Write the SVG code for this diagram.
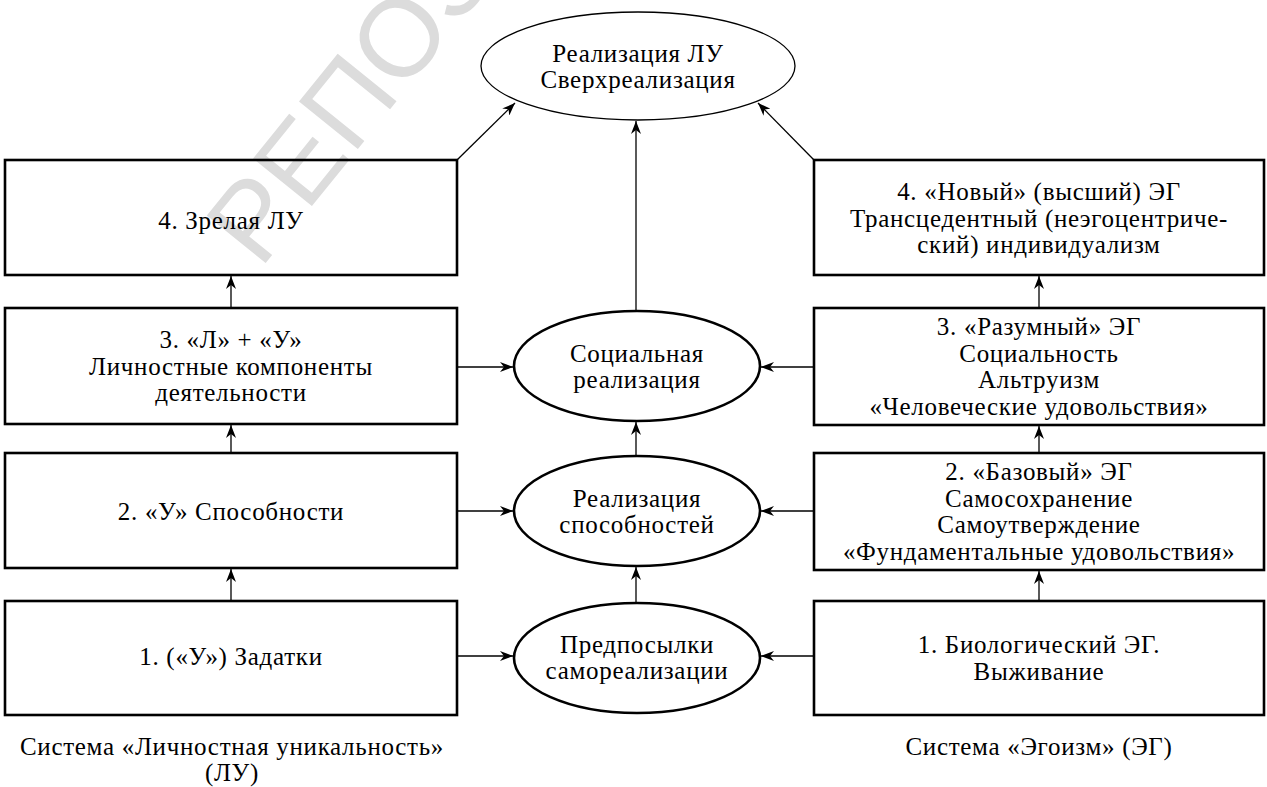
<svg xmlns="http://www.w3.org/2000/svg" width="1267" height="787" viewBox="0 0 1267 787">
<style>
  .box{fill:none;stroke:#000;stroke-width:2.6}
  .ell{fill:none;stroke:#000;stroke-width:2.6}
  .ellthin{fill:none;stroke:#000;stroke-width:1.3}
  .conn line{stroke:#000;stroke-width:1.3}
  .t text{font-family:"Liberation Serif","Times New Roman",serif;font-size:25px;letter-spacing:0.7px;fill:#000;text-anchor:middle}
  .wm{font-family:"Liberation Sans",Arial,sans-serif;font-size:110px;fill:#dcdcdc}
</style>
<defs>
  <marker id="arr" markerUnits="userSpaceOnUse" markerWidth="14" markerHeight="10" refX="13" refY="5" orient="auto">
    <path d="M0,0 L13,5 L0,10 L4,5 Z" fill="#000"/>
  </marker>
</defs>
<rect width="1267" height="787" fill="#fff"/>
<text class="wm" transform="translate(260,270) rotate(-51)">РЕПОЗИТОРИЙ</text>

<g id="connectors" class="conn">
  <line x1="457" y1="160" x2="515" y2="103" marker-end="url(#arr)"/>
  <line x1="814" y1="160" x2="758" y2="103" marker-end="url(#arr)"/>
  <line x1="636" y1="311" x2="636" y2="121" marker-end="url(#arr)"/>
  <line x1="636" y1="456" x2="636" y2="422" marker-end="url(#arr)"/>
  <line x1="636" y1="603" x2="636" y2="567" marker-end="url(#arr)"/>
  <line x1="231" y1="308" x2="231" y2="276" marker-end="url(#arr)"/>
  <line x1="231" y1="453" x2="231" y2="425" marker-end="url(#arr)"/>
  <line x1="231" y1="601" x2="231" y2="569" marker-end="url(#arr)"/>
  <line x1="1039" y1="308" x2="1039" y2="276" marker-end="url(#arr)"/>
  <line x1="1039" y1="453" x2="1039" y2="426" marker-end="url(#arr)"/>
  <line x1="1039" y1="601" x2="1039" y2="571" marker-end="url(#arr)"/>
  <line x1="457" y1="367" x2="513" y2="367" marker-end="url(#arr)"/>
  <line x1="457" y1="511" x2="513" y2="511" marker-end="url(#arr)"/>
  <line x1="457" y1="656" x2="513" y2="656" marker-end="url(#arr)"/>
  <line x1="814" y1="367" x2="761" y2="367" marker-end="url(#arr)"/>
  <line x1="814" y1="511" x2="761" y2="511" marker-end="url(#arr)"/>
  <line x1="814" y1="656" x2="761" y2="656" marker-end="url(#arr)"/>
</g>

<g class="t">
<g id="top">
  <ellipse class="ellthin" cx="638" cy="66" rx="157" ry="54"/>
  <text x="638" y="62">Реализация ЛУ</text>
  <text x="638" y="88">Сверхреализация</text>
</g>

<g id="social">
  <ellipse class="ell" cx="637" cy="366" rx="123" ry="55"/>
  <text x="637" y="362">Социальная</text>
  <text x="637" y="388">реализация</text>
</g>
<g id="abilities">
  <ellipse class="ell" cx="637" cy="511" rx="123" ry="55"/>
  <text x="637" y="507">Реализация</text>
  <text x="637" y="533">способностей</text>
</g>
<g id="prereq">
  <ellipse class="ell" cx="637" cy="658" rx="123" ry="55"/>
  <text x="637" y="653">Предпосылки</text>
  <text x="637" y="679">самореализации</text>
</g>

<g id="lu4">
  <rect class="box" x="5" y="160" width="452" height="115"/>
  <text x="231" y="229">4. Зрелая ЛУ</text>
</g>
<g id="lu3">
  <rect class="box" x="5" y="308" width="452" height="116"/>
  <text x="231" y="348">3. «Л» + «У»</text>
  <text x="231" y="375">Личностные компоненты</text>
  <text x="231" y="401">деятельности</text>
</g>
<g id="lu2">
  <rect class="box" x="5" y="453" width="452" height="115"/>
  <text x="231" y="520">2. «У» Способности</text>
</g>
<g id="lu1">
  <rect class="box" x="5" y="601" width="452" height="114"/>
  <text x="231" y="665">1. («У») Задатки</text>
</g>

<g id="eg4">
  <rect class="box" x="814" y="160" width="450" height="115"/>
  <text x="1039" y="200">4. «Новый» (высший) ЭГ</text>
  <text x="1039" y="227">Трансцедентный (неэгоцентриче-</text>
  <text x="1039" y="253">ский) индивидуализм</text>
</g>
<g id="eg3">
  <rect class="box" x="814" y="308" width="450" height="117"/>
  <text x="1039" y="335">3. «Разумный» ЭГ</text>
  <text x="1039" y="362">Социальность</text>
  <text x="1039" y="388">Альтруизм</text>
  <text x="1039" y="415">«Человеческие удовольствия»</text>
</g>
<g id="eg2">
  <rect class="box" x="814" y="453" width="450" height="117"/>
  <text x="1039" y="480">2. «Базовый» ЭГ</text>
  <text x="1039" y="507">Самосохранение</text>
  <text x="1039" y="533">Самоутверждение</text>
  <text x="1039" y="560">«Фундаментальные удовольствия»</text>
</g>
<g id="eg1">
  <rect class="box" x="814" y="601" width="450" height="114"/>
  <text x="1039" y="653">1. Биологический ЭГ.</text>
  <text x="1039" y="680">Выживание</text>
</g>

<g id="caption-lu">
  <text x="232" y="755">Система «Личностная уникальность»</text>
  <text x="232" y="781">(ЛУ)</text>
</g>
<g id="caption-eg">
  <text x="1039" y="755">Система «Эгоизм» (ЭГ)</text>
</g>
</g>
</svg>
